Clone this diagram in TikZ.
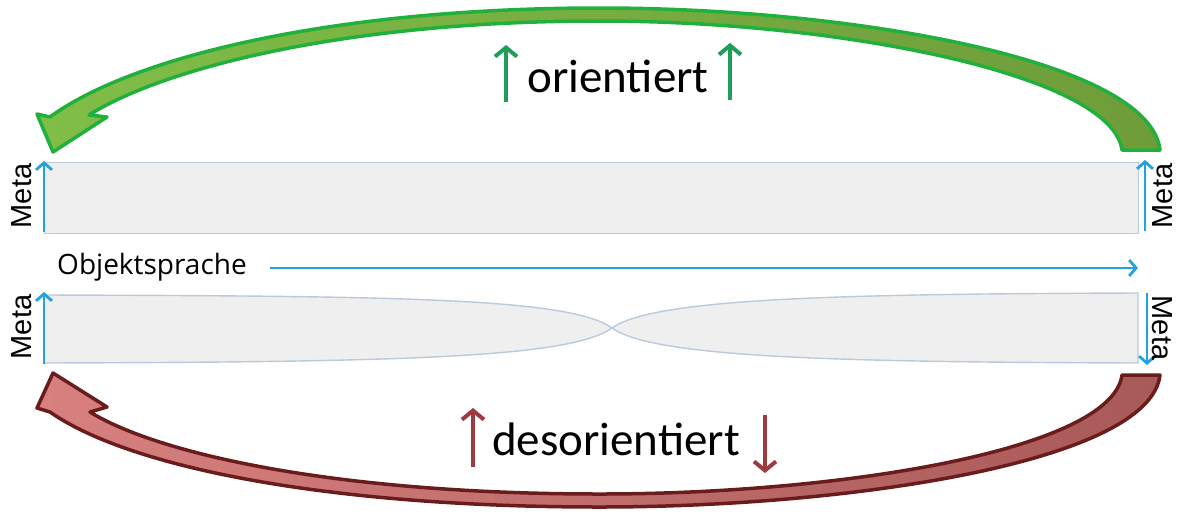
\documentclass[tikz,border=0pt]{standalone}
\usepackage{fontspec}
\setmainfont{Carlito}
\newfontfamily\osans{Open Sans}
\newfontfamily\lsans{Liberation Sans}
\usetikzlibrary{arrows.meta}
\definecolor{bandfill}{HTML}{EFEFEF}
\definecolor{bandline}{HTML}{BACADD}
\definecolor{metablue}{HTML}{22A2DE}
\definecolor{gline}{HTML}{22B03C}
\definecolor{gfillL}{HTML}{80BE48}
\definecolor{gfillR}{HTML}{6E9C3A}
\definecolor{rline}{HTML}{6A1C1C}
\definecolor{rfillL}{HTML}{D88080}
\definecolor{rfillR}{HTML}{A85A58}
\definecolor{garrow}{HTML}{1E9E5A}
\definecolor{rarrow}{HTML}{9E3A40}
\begin{document}
\begin{tikzpicture}[x=1pt,y=-1pt,
  band/.style={fill=bandfill, draw=bandline, line width=1.4pt},
  metaarrow/.style={draw=metablue, line width=2.8pt, -{Straight Barb[length=7pt,width=16pt]}},
  metalabel/.style={font=\lsans\fontsize{29}{30}\selectfont, inner sep=0pt},
  objlabel/.style={font=\osans\fontsize{28}{30}\selectfont, inner sep=0pt},
  bigtext/.style={font=\fontsize{47}{52}\selectfont, inner sep=0pt},
  bigG/.style={draw=gline, line width=3.5pt, left color=gfillL, right color=gfillR, line join=round},
  bigR/.style={draw=rline, line width=3.5pt, left color=rfillL, right color=rfillR, line join=round},
  txtG/.style={draw=garrow, line width=4pt, -{Straight Barb[length=9pt,width=22pt]}},
  txtR/.style={draw=rarrow, line width=4pt, -{Straight Barb[length=9pt,width=22pt]}}
]
\useasboundingbox (0,0) rectangle (1177,515);

% green arrow (top)
\path[bigG] (1160,150) .. controls (1150,60) and (850,8) .. (600,8)
  .. controls (330,8) and (130,58) .. (50,117)
  -- (37,114) -- (53,152) -- (107,117) -- (89,115)
  .. controls (160,70) and (340,21) .. (600,21)
  .. controls (840,21) and (1112,75) .. (1122,150) -- cycle;

% red arrow (bottom)
\path[bigR] (1160,375) .. controls (1150,462) and (850,507) .. (600,507)
  .. controls (330,507) and (130,468) .. (50,412)
  -- (37,408) -- (53,373) -- (107,407) -- (90,412)
  .. controls (160,455) and (340,494) .. (600,494)
  .. controls (840,494) and (1112,450) .. (1122,375) -- cycle;

% upper band
\node[band, minimum width=1094pt, minimum height=71pt, anchor=north west, inner sep=0pt] (ub) at (44,162) {};
\coordinate (ulb) at (44,232);
\coordinate (ult) at (44,161);
\coordinate (urb) at (1145,231);
\coordinate (urt) at (1145,160);
\draw[metaarrow] (ulb) -- (ult);
\draw[metaarrow] (urb) -- (urt);
\node[metalabel, rotate=90] (m1) at (22,196) {Meta};
\node[metalabel, rotate=90] (m2) at (1163,196) {Meta};

% Objektsprache
\node[objlabel, anchor=west] (obj) at (57,267) {Objektsprache};
\coordinate (os) at (270,268);
\coordinate (oe) at (1138,268);
\draw[metaarrow] (os) -- (oe);

% lower twisted band
\path[band] (44,295) .. controls (400,296) and (570,298) .. (612,328)
  .. controls (570,358) and (400,362) .. (44,363) -- cycle;
\path[band] (612,328) .. controls (654,358) and (840,362) .. (1138,363)
  -- (1138,293) .. controls (840,294) and (654,298) .. (612,328) -- cycle;
\coordinate (llb) at (44,364);
\coordinate (llt) at (44,292);
\coordinate (lrt) at (1147,293);
\coordinate (lrb) at (1147,365);
\draw[metaarrow] (llb) -- (llt);
\draw[metaarrow] (lrt) -- (lrb);
\node[metalabel, rotate=90] (m3) at (22,327) {Meta};
\node[metalabel, rotate=-90] (m4) at (1162,328) {Meta};

% texts
\node[bigtext, anchor=base] (ori) at (618,92) {orientiert};
\node[bigtext, anchor=base] (deso) at (616,455) {desorientiert};
\coordinate (g1s) at (506,102);
\coordinate (g1e) at (506,45);
\coordinate (g2s) at (730,100);
\coordinate (g2e) at (730,43);
\draw[txtG] (g1s) -- (g1e);
\draw[txtG] (g2s) -- (g2e);
\coordinate (r1s) at (473,467);
\coordinate (r1e) at (473,408);
\coordinate (r2s) at (765,415);
\coordinate (r2e) at (765,473);
\draw[txtR] (r1s) -- (r1e);
\draw[txtR] (r2s) -- (r2e);
\end{tikzpicture}
\end{document}
